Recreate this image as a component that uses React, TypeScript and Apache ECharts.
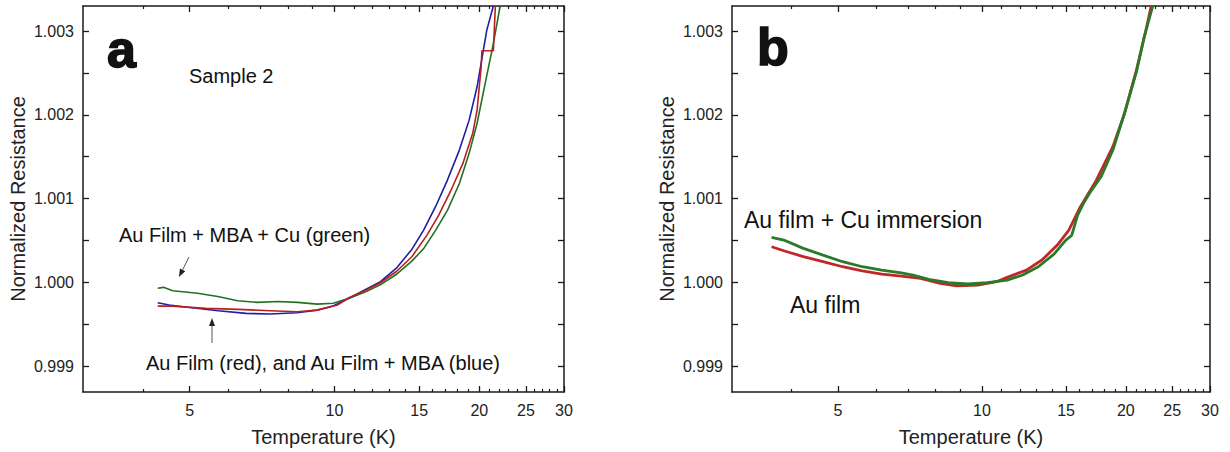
import React, { useEffect, useRef } from "react";
import * as echarts from "echarts";

// Axis settings
const T_MIN = 3;
const T_MAX = 30;
const R_MIN = 0.99869;
const R_MAX = 1.0033;
const xMajorTicks = [5, 10, 15, 20, 25, 30];
const xMinorTicks = [4, 6, 7, 8, 9, 11, 12, 13, 14, 16, 17, 18, 19, 21, 22, 23, 24, 26, 27, 28, 29];
const yLabelTicks = [0.999, 1.0, 1.001, 1.002, 1.003];
const yAllTicks = [0.999, 0.9995, 1.0, 1.0005, 1.001, 1.0015, 1.002, 1.0025, 1.003];

// Panel a: Sample 2
const aGreenT = [4.29, 4.41, 4.61, 5.19, 5.72, 6.29, 6.92, 7.62, 8.38, 9.21, 9.94, 10.72, 11.55, 12.45, 13.41, 14.46, 15.31, 16.22, 17.17, 18.18, 19.05, 19.79, 20.56, 21.39, 22.1];
const aGreenR = [0.99993, 0.99994, 0.9999, 0.99987, 0.99983, 0.99978, 0.99976, 0.99977, 0.99976, 0.99974, 0.99975, 0.99981, 0.99988, 0.99997, 1.00009, 1.00025, 1.0004, 1.00062, 1.00086, 1.00118, 1.00154, 1.0019, 1.00237, 1.00285, 1.0033];

const aBlueT = [4.29, 4.53, 5.0, 5.73, 6.55, 7.35, 8.36, 9.2, 9.93, 10.71, 11.55, 12.46, 13.43, 14.48, 15.32, 16.22, 17.17, 18.18, 19.05, 19.79, 20.73, 21.39];
const aBlueR = [0.999756, 0.999728, 0.9997, 0.999661, 0.999629, 0.999621, 0.999637, 0.999668, 0.999716, 0.999808, 0.999908, 1.000007, 1.000166, 1.000393, 1.000624, 1.000903, 1.001221, 1.001579, 1.001937, 1.002335, 1.003012, 1.0033];

const aRedT = [4.29, 4.61, 5.4, 6.31, 7.35, 8.36, 9.2, 10.14, 10.71, 11.55, 12.46, 13.43, 14.48, 15.57, 16.47, 17.45, 18.49, 19.38, 19.79, 20.18, 20.25, 21.39, 21.6];
const aRedR = [0.999716, 0.999716, 0.999689, 0.999677, 0.999661, 0.999649, 0.999668, 0.999728, 0.999816, 0.9999, 0.999995, 1.000126, 1.000305, 1.000564, 1.000803, 1.001094, 1.00142, 1.001779, 1.002056, 1.002574, 1.002766, 1.002766, 1.0033];

// Panel b
const bGreenT = [3.63, 3.85, 4.23, 4.65, 5.11, 5.62, 6.17, 6.78, 7.17, 7.74, 8.5, 9.34, 10.27, 11.29, 12.17, 13.12, 14.15, 14.98, 15.41, 15.85, 16.3, 16.78, 17.75, 18.79, 19.88, 21.04, 21.85, 22.77];
const bGreenR = [1.000536, 1.000505, 1.000405, 1.000325, 1.000246, 1.000186, 1.000146, 1.000114, 1.000087, 1.000035, 0.999995, 0.99998, 0.999995, 1.000027, 1.000087, 1.000186, 1.000337, 1.000505, 1.00056, 1.0008, 1.00094, 1.00106, 1.00126, 1.00158, 1.00202, 1.00251, 1.00293, 1.0033];

const bRedT = [3.63, 3.85, 4.23, 4.65, 5.11, 5.62, 6.17, 6.78, 7.44, 8.18, 8.85, 9.8, 10.73, 11.29, 12.39, 13.35, 14.38, 15.2, 16.07, 17.28, 18.79, 19.88, 21.04, 22.03, 22.6];
const bRedR = [1.000425, 1.000377, 1.000306, 1.000246, 1.000186, 1.000138, 1.000099, 1.000075, 1.000047, 0.999987, 0.999959, 0.999967, 1.000007, 1.000059, 1.000146, 1.000266, 1.000445, 1.000624, 1.000903, 1.0012, 1.00162, 1.00202, 1.00253, 1.00301, 1.0033];

const FONT = '"Liberation Sans", Arial, Helvetica, sans-serif';
const AXIS_COLOR = "#1a1a1a";

const toPoints = (ts: number[], rs: number[]) => ts.map((t, i) => [Math.log10(t), rs[i]]);
const lg = (arr: number[]) => arr.map((v) => Math.log10(v));

function makeXAxes(gridIndex: number) {
  const base = {
    type: "value" as const,
    gridIndex,
    min: Math.log10(T_MIN),
    max: Math.log10(T_MAX),
    splitLine: { show: false },
  };
  return [
    {
      ...base,
      position: "bottom",
      axisLine: { show: true, onZero: false, lineStyle: { color: AXIS_COLOR, width: 1.5 } },
      axisTick: { show: true, inside: true, length: 6, customValues: lg(xMajorTicks), lineStyle: { color: AXIS_COLOR, width: 1.3 } },
      axisLabel: {
        show: true,
        customValues: lg(xMajorTicks),
        formatter: (v: number) => String(Math.round(Math.pow(10, v))),
        fontSize: 16,
        color: "#222",
        fontFamily: FONT,
        margin: 10,
      },
      name: "Temperature (K)",
      nameLocation: "middle",
      nameGap: 35,
      nameTextStyle: { fontSize: 20, color: "#222", fontFamily: FONT },
    },
    {
      ...base,
      position: "bottom",
      axisLine: { show: false, onZero: false },
      axisTick: { show: true, inside: true, length: 3, customValues: lg(xMinorTicks), lineStyle: { color: AXIS_COLOR, width: 1.2 } },
      axisLabel: { show: false },
    },
    {
      ...base,
      position: "top",
      axisLine: { show: true, onZero: false, lineStyle: { color: AXIS_COLOR, width: 1.5 } },
      axisTick: { show: true, inside: true, length: 6, customValues: lg(xMajorTicks), lineStyle: { color: AXIS_COLOR, width: 1.3 } },
      axisLabel: { show: false },
    },
    {
      ...base,
      position: "top",
      axisLine: { show: false, onZero: false },
      axisTick: { show: true, inside: true, length: 3, customValues: lg(xMinorTicks), lineStyle: { color: AXIS_COLOR, width: 1.2 } },
      axisLabel: { show: false },
    },
  ];
}

function makeYAxes(gridIndex: number) {
  const base = {
    type: "value" as const,
    gridIndex,
    min: R_MIN,
    max: R_MAX,
    splitLine: { show: false },
  };
  return [
    {
      ...base,
      position: "left",
      axisLine: { show: true, onZero: false, lineStyle: { color: AXIS_COLOR, width: 1.5 } },
      axisTick: { show: true, inside: true, length: 6, customValues: yAllTicks, lineStyle: { color: AXIS_COLOR, width: 1.3 } },
      axisLabel: {
        show: true,
        customValues: yLabelTicks,
        formatter: (v: number) => v.toFixed(3),
        fontSize: 16,
        color: "#222",
        fontFamily: FONT,
        margin: 9,
      },
      name: "Normalized Resistance",
      nameLocation: "middle",
      nameGap: 55,
      nameTextStyle: { fontSize: 20, color: "#222", fontFamily: FONT },
    },
    {
      ...base,
      position: "right",
      axisLine: { show: true, onZero: false, lineStyle: { color: AXIS_COLOR, width: 1.5 } },
      axisTick: { show: true, inside: true, length: 6, customValues: yAllTicks, lineStyle: { color: AXIS_COLOR, width: 1.3 } },
      axisLabel: { show: false },
    },
  ];
}

function lineSeries(name: string, data: number[][], color: string, width: number, xAxisIndex: number, yAxisIndex: number) {
  return {
    name,
    type: "line",
    xAxisIndex,
    yAxisIndex,
    data,
    showSymbol: false,
    symbol: "none",
    smooth: false,
    lineStyle: { color, width },
    itemStyle: { color },
    emphasis: { disabled: true },
  };
}

function arrow(x1: number, y1: number, x2: number, y2: number) {
  const dx = x2 - x1;
  const dy = y2 - y1;
  const len = Math.sqrt(dx * dx + dy * dy);
  const ux = dx / len;
  const uy = dy / len;
  const headLen = 8;
  const headW = 3;
  const bx = x2 - ux * headLen;
  const by = y2 - uy * headLen;
  return [
    { type: "line", shape: { x1, y1, x2: bx, y2: by }, style: { stroke: "#555", lineWidth: 1 } },
    {
      type: "polygon",
      shape: { points: [[x2, y2], [bx - uy * headW, by + ux * headW], [bx + uy * headW, by - ux * headW]] },
      style: { fill: "#222" },
    },
  ];
}

function label(text: string, x: number, y: number, size: number, weight: string = "normal", heavy: boolean = false) {
  return {
    type: "text",
    x,
    y,
    style: {
      text,
      fill: "#111",
      font: `${weight} ${size}px ${FONT}`,
      align: "left",
      verticalAlign: "middle",
      ...(heavy ? { stroke: "#111", lineWidth: 1.6 } : {}),
    },
  };
}

export default function App() {
  const ref = useRef<HTMLDivElement>(null);

  useEffect(() => {
    if (!ref.current) return;
    const chart = echarts.init(ref.current, undefined, { renderer: "svg" });
    const option = {
      animation: false,
      backgroundColor: "#ffffff",
      grid: [
        { left: 83, top: 6, width: 481, height: 386, containLabel: false },
        { left: 732, top: 6, width: 478, height: 386, containLabel: false },
      ],
      xAxis: [...makeXAxes(0), ...makeXAxes(1)],
      yAxis: [...makeYAxes(0), ...makeYAxes(1)],
      series: [
        lineSeries("Au Film + MBA + Cu", toPoints(aGreenT, aGreenR), "#237023", 1.6, 0, 0),
        lineSeries("Au Film + MBA", toPoints(aBlueT, aBlueR), "#1e1ea6", 1.6, 0, 0),
        lineSeries("Au Film", toPoints(aRedT, aRedR), "#b82020", 1.6, 0, 0),
        lineSeries("Au film", toPoints(bRedT, bRedR), "#c02828", 2.8, 4, 2),
        lineSeries("Au film + Cu immersion", toPoints(bGreenT, bGreenR), "#2a7a2a", 2.8, 4, 2),
      ],
      graphic: [
        label("a", 107, 49, 52, "bold", true),
        label("b", 757, 47, 52, "bold", true),
        label("Sample 2", 189, 76, 20),
        label("Au Film + MBA + Cu (green)", 119, 235, 20),
        label("Au Film (red), and Au Film + MBA (blue)", 146, 363, 20),
        label("Au film + Cu immersion", 744, 220, 23),
        label("Au film", 790, 305, 23),
        ...arrow(189, 257, 179, 277),
        ...arrow(212, 343, 212, 318),
      ],
    };
    chart.setOption(option as any);
    return () => {
      chart.dispose();
    };
  }, []);

  return (
    <div
      ref={ref}
      style={{ position: "absolute", left: 0, top: 0, width: 1230, height: 452, background: "#fff" }}
    />
  );
}
